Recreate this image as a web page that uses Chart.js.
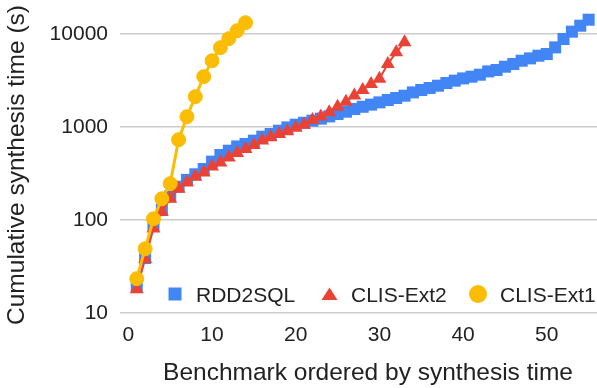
<!DOCTYPE html>
<html>
<head>
<meta charset="utf-8">
<script src="https://cdn.jsdelivr.net/npm/chart.js@4"></script>
<style>
  html, body { margin: 0; padding: 0; background: #fff; }
  #wrap { width: 597px; height: 388px; }
</style>
</head>
<body>
<div id="wrap"><canvas id="chart" width="597" height="388"></canvas></div>
<script>
// cumulative synthesis time (s), benchmarks ordered by time
const rdd2sql = [19, 39, 88, 128, 180, 228, 270, 310, 353, 424,
  500, 556, 618, 656, 713, 787, 841, 912, 990, 1059,
  1110, 1170, 1230, 1300, 1380, 1460, 1560, 1650, 1740, 1840,
  1950, 2050, 2170, 2355, 2500, 2625, 2780, 2970, 3150, 3330,
  3475, 3650, 3960, 4100, 4450, 4760, 5160, 5470, 5840, 6090,
  7180, 8840, 10590, 12280, 14250];
const clisExt2 = [18, 38, 81, 123, 169, 217, 253, 292, 325, 375,
  415, 470, 525, 580, 640, 715, 775, 840, 900, 980,
  1060, 1190, 1300, 1440, 1650, 1870, 2180, 2500, 2900, 3300,
  4750, 6350, 8150];
const clisExt1 = [23.4, 49, 103, 169, 246, 730, 1290, 2120, 3480, 5160,
  7130, 8900, 10850, 13230];

const yTicks = [10, 100, 1000, 10000];
const xTicks = [0, 10, 20, 30, 40, 50];
const seriesNames = ['RDD2SQL', 'CLIS-Ext2', 'CLIS-Ext1'];
const xTitle = 'Benchmark ordered by synthesis time';
const yTitle = 'Cumulative synthesis time (s)';

const FONT = 'Arial, "Liberation Sans", sans-serif';
const TEXT = '#222222';
const BLUE = '#4285f4';
const RED = '#ea4335';
const YELLOW = '#fbbc04';

function points(values) {
  return values.map((v, i) => ({ x: i + 1, y: v }));
}

// legend inside the plot (bottom right) and the axis titles, placed like the sheets chart
const legendPlugin = {
  id: 'sheetLegend',
  afterDraw(chart) {
    const ctx = chart.ctx;
    const y = 294;
    const items = [
      { name: seriesNames[0], color: BLUE, shape: 'square', mx: 175, tx: 196 },
      { name: seriesNames[1], color: RED, shape: 'triangle', mx: 329.5, tx: 351 },
      { name: seriesNames[2], color: YELLOW, shape: 'circle', mx: 478, tx: 500 }
    ];
    ctx.save();
    items.forEach(it => {
      ctx.fillStyle = it.color;
      ctx.beginPath();
      if (it.shape === 'square') {
        ctx.rect(it.mx - 6.5, y - 6.5, 13, 13);
      } else if (it.shape === 'triangle') {
        ctx.moveTo(it.mx, y - 6.5);
        ctx.lineTo(it.mx + 8, y + 6);
        ctx.lineTo(it.mx - 8, y + 6);
        ctx.closePath();
      } else {
        ctx.arc(it.mx, y, 9, 0, Math.PI * 2);
      }
      ctx.fill();
      ctx.fillStyle = TEXT;
      ctx.font = '21px ' + FONT;
      ctx.textBaseline = 'alphabetic';
      ctx.textAlign = 'left';
      ctx.fillText(it.name, it.tx, 302);
    });
    ctx.font = '24.5px ' + FONT;
    ctx.textAlign = 'center';
    ctx.fillText(xTitle, 368, 380);
    ctx.translate(17.5, 165);
    ctx.rotate(-Math.PI / 2);
    ctx.textBaseline = 'middle';
    ctx.fillText(yTitle, 0, 0);
    ctx.restore();
  }
};

const ctx = document.getElementById('chart').getContext('2d');
new Chart(ctx, {
  type: 'line',
  data: {
    datasets: [
      {
        label: seriesNames[2],
        data: points(clisExt1),
        borderColor: YELLOW,
        backgroundColor: YELLOW,
        borderWidth: 3,
        pointStyle: 'circle',
        pointRadius: 7,
        pointBorderWidth: 1,
        pointHoverRadius: 7
      },
      {
        label: seriesNames[1],
        data: points(clisExt2),
        borderColor: RED,
        backgroundColor: RED,
        borderWidth: 2,
        pointStyle: 'triangle',
        pointRadius: 8,
        pointBorderWidth: 0,
        pointHoverRadius: 8
      },
      {
        label: seriesNames[0],
        data: points(rdd2sql),
        borderColor: BLUE,
        backgroundColor: BLUE,
        borderWidth: 2,
        pointStyle: 'rect',
        pointRadius: 8.5,
        pointBorderWidth: 0,
        pointHoverRadius: 8.5
      }
    ]
  },
  options: {
    responsive: false,
    animation: false,
    devicePixelRatio: 1,
    layout: { autoPadding: false, padding: { top: 6, right: 0, bottom: 0, left: 0 } },
    plugins: { legend: { display: false }, tooltip: { enabled: false } },
    scales: {
      x: {
        type: 'linear',
        min: -1,
        max: 56,
        afterFit: s => { s.height = 75; s.paddingLeft = 0; s.paddingRight = 0; },
        afterBuildTicks: s => { s.ticks = xTicks.map(v => ({ value: v })); },
        grid: { display: false, drawTicks: false },
        border: { display: false },
        ticks: {
          padding: 10,
          color: TEXT,
          font: { family: FONT, size: 21 },
          callback: v => String(v)
        }
      },
      y: {
        type: 'logarithmic',
        min: 10,
        max: 20000,
        afterFit: s => { s.width = 120; s.paddingTop = 0; s.paddingBottom = 0; },
        afterBuildTicks: s => { s.ticks = yTicks.map(v => ({ value: v })); },
        grid: { color: '#cccccc', lineWidth: 1.5, drawTicks: false },
        border: { display: false },
        ticks: {
          padding: 12,
          color: TEXT,
          font: { family: FONT, size: 21 },
          callback: v => String(v)
        }
      }
    }
  },
  plugins: [legendPlugin]
});
</script>
</body>
</html>
